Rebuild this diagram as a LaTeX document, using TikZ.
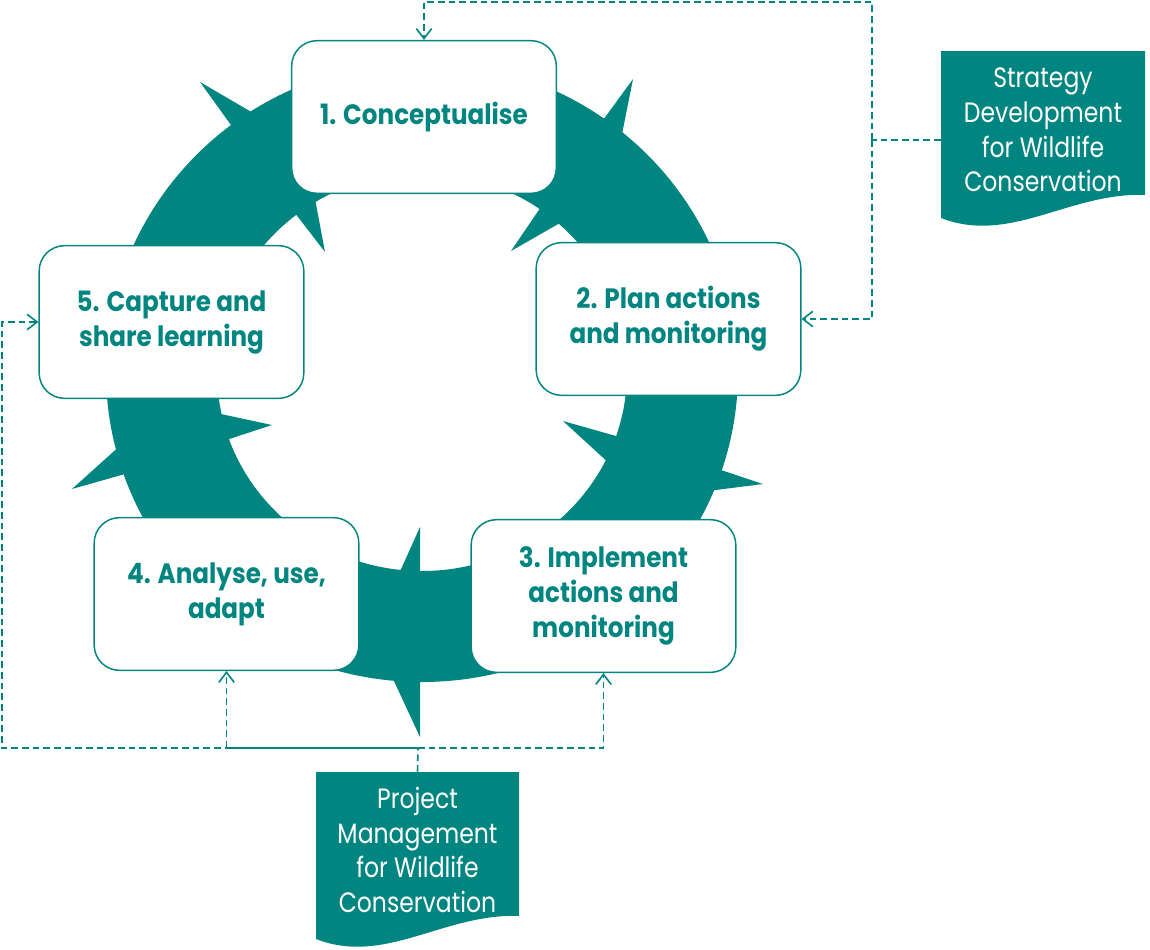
\documentclass[tikz,border=0pt]{standalone}
\usepackage{fontspec}
\setmainfont{Poppins}
\newfontfamily\boxfont{Poppins}[FakeStretch=0.88]
\newfontfamily\docfont{Poppins}[FakeStretch=0.84]
\usetikzlibrary{arrows.meta,backgrounds}
\definecolor{tealc}{RGB}{0,133,128}
\begin{document}
\begin{tikzpicture}[x=0.75pt,y=-0.75pt,
  box/.style={draw=tealc, line width=1.1pt, fill=white, rounded corners=19pt,
    minimum width=198.5pt, minimum height=114.5pt, align=center, text=tealc,
    font=\boxfont\bfseries\fontsize{21}{26.25}\selectfont, inner sep=0pt},
  doctext/.style={align=center, text=white, minimum width=153pt, minimum height=117pt,
    inner sep=0pt, font=\docfont\fontsize{21}{26}\selectfont},
  dl/.style={draw=tealc, line width=1.2pt, dash pattern=on 5pt off 3pt},
  tip/.style={-{Straight Barb[length=7.5pt,width=11.5pt]}},
  barb/.style={fill=tealc}
]
\useasboundingbox (0,0) rectangle (1150,950);

% ring
\fill[tealc, even odd rule] (422,372) ellipse [x radius=316, y radius=310]
                            (422,372) ellipse [x radius=205, y radius=199];
% barbs
\fill[barb] (200,82) -- (260,117) -- (236,132) -- cycle;
\fill[barb] (325,252) -- (313,188) -- (288,204) -- cycle;
\fill[barb] (633,79) -- (598,127) -- (620,144) -- cycle;
\fill[barb] (511,251) -- (545,201) -- (567,219) -- cycle;
\fill[barb] (563,421) -- (623,438) -- (611,465) -- cycle;
\fill[barb] (763,484) -- (712,467) -- (700,492) -- cycle;
\fill[barb] (420,527) -- (420,577) -- (398,576) -- cycle;
\fill[barb] (420,737) -- (420,668) -- (387,666) -- cycle;
\fill[barb] (272,425) -- (207,411) -- (217,443) -- cycle;
\fill[barb] (72,489) -- (122,444) -- (132,472) -- cycle;

% boxes
\node[box] (b1) at (424,117) {1. Conceptualise};
\node[box] (b2) at (668.5,319) {2. Plan actions\\and monitoring};
\node[box] (b3) at (603.5,596) {3. Implement\\actions and\\monitoring};
\node[box] (b4) at (226.5,594) {4. Analyse, use,\\adapt};
\node[box] (b5) at (171.5,322) {5. Capture and\\share learning};

% documents
\node[doctext] (sdoc) at (1043,130) {Strategy\\Development\\for Wildlife\\Conservation};
\node[doctext] (pdoc) at (417.5,850) {Project\\Management\\for Wildlife\\Conservation};
\begin{pgfonlayer}{background}
\fill[tealc] (941,51) -- (1145,51) -- (1145,195) .. controls (1070,192) and (1010,245) .. (941,218) -- cycle;
\fill[tealc] (316,772) -- (519,772) -- (519,916) .. controls (444,913) and (385,966) .. (316,939) -- cycle;
\end{pgfonlayer}

% connectors
\coordinate (sj) at (872,140);
\coordinate (stop) at (872,2);
\draw[dl] ([yshift=-7.5pt]sdoc.west) -- (sj);
\draw[dl,tip] (sj) -- (stop) -| (b1.north);
\draw[dl,tip] (sj) |- (b2.east);

\coordinate (pj) at (418,748);
\coordinate (pl) at (2,748);
\draw[dl] (pdoc.north) -- (pj);
\draw[dl,tip] (pj) -| (b3.south);
\draw[dl,tip] (pj) -| (b4.south);
\draw[dl,tip,dash phase=4pt] (pj) -- (pl) |- (b5.west);
\end{tikzpicture}
\end{document}
